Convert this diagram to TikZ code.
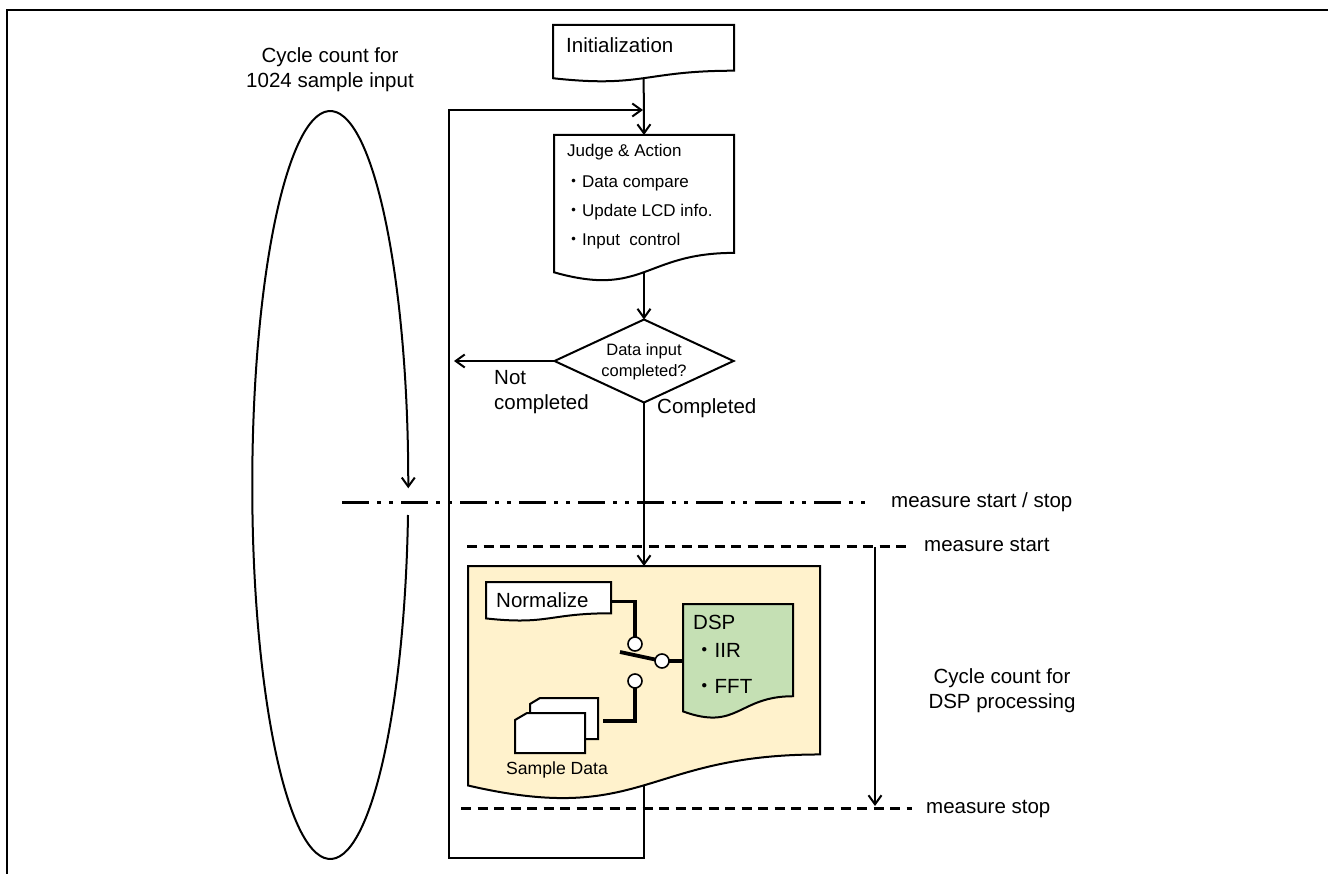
\documentclass[tikz,border=0pt]{standalone}
\usepackage{fontspec}
\setmainfont{Liberation Sans}
\newfontfamily\cjk{Noto Sans CJK JP}
\usetikzlibrary{arrows.meta,shapes.geometric,calc}
\definecolor{docyellow}{HTML}{FFF2CC}
\definecolor{docgreen}{HTML}{C5E0B4}
\newcommand\docpath[3]{% name, fill, line width
  \path[draw, fill=#2, line width=#3] let \p1=(#1.north west), \p2=(#1.south east) in
    (\x1,\y1) -- (\x2,\y1) -- (\x2,{\y1+0.802*(\y2-\y1)})
    .. controls ({(\x1+\x2)/2},{\y1+0.802*(\y2-\y1)}) and ({(\x1+\x2)/2},{\y1+1.108*(\y2-\y1)}) ..
    (\x1,{\y1+0.934*(\y2-\y1)}) -- cycle;}
\begin{document}
\begin{tikzpicture}[x=1pt,y=-1pt,
  box/.style={rectangle, inner sep=0pt, outer sep=0pt, anchor=north west},
  conn/.style={line width=2pt},
  arr/.style={line width=2pt, -{Straight Barb[length=9pt,width=13pt]}},
  big/.style={inner sep=0pt, font=\fontsize{20.5}{25}\selectfont},
  small/.style={inner sep=0pt, font=\fontsize{17}{21}\selectfont},
  sw/.style={line width=3.8pt},
  pin/.style={circle, draw, fill=white, line width=1.6pt, minimum size=14pt, inner sep=0pt, outer sep=0pt},
  dashline/.style={line width=3pt, dash pattern=on 10pt off 6.5pt},
  dashdotline/.style={line width=3pt, dash pattern=on 27pt off 8pt on 4pt off 8pt on 4pt off 8pt},
]
\useasboundingbox (0,0) rectangle (1328,874);
% frame
\draw[line width=2.5pt] (7,874) -- (7,10) -- (1328,10);

% placeholder nodes for shapes
\node[box, minimum width=181pt, minimum height=57pt] (init) at (553,25) {};
\node[box, minimum width=180pt, minimum height=147pt] (judge) at (554,135) {};
\node[box, minimum width=352pt, minimum height=235pt] (ybox) at (468,566) {};
\node[box, minimum width=125pt, minimum height=39pt] (norm) at (486,582) {};
\node[box, minimum width=110pt, minimum height=115pt] (dsp) at (683,604) {};

% coordinates
\coordinate (loopbl) at (449,858);
\coordinate (looptl) at (449,110);
\coordinate (loopjoin) at (643,110);
\coordinate (nc) at (454,361);
\coordinate (dd1) at (342,502);
\coordinate (dd2) at (870,502);
\coordinate (ms1) at (467,546);
\coordinate (ms2) at (912,546);
\coordinate (me1) at (461,808);
\coordinate (me2) at (912,808);
\coordinate (cs) at (875,547);
\coordinate (ce) at (875,806);
\coordinate (lever) at (620,652);
\coordinate (cardlink) at (603,721);

% ellipse cycle
\draw[arr] (408,515) arc[start angle=4.6, end angle=360.5, x radius=78, y radius=374];
\node[big, align=center] (cyc1) at (330,70) {Cycle count for\\1024 sample input};

% measure lines
\draw[dashdotline] (dd1) -- (dd2);
\node[big, anchor=west] (mss) at (891,502) {measure start / stop};
\draw[dashline] (ms1) -- (ms2);
\node[big, anchor=west] (mst) at (924,545) {measure start};
\draw[dashline] (me1) -- (me2);
\node[big, anchor=west] (msp) at (926,809) {measure stop};
\draw[arr] (cs) -- (ce);
\node[big, align=center] (cyc2) at (1002,691) {Cycle count for\\DSP processing};

% diamond
\node[diamond, draw=none, minimum width=179pt, minimum height=83pt, inner sep=0pt, outer sep=0pt, aspect=2.16] (dec) at (644,361) {};

% connectors
\draw[arr] (ybox.center) |- (loopbl) -- (looptl) -- (loopjoin);
\draw[arr] (init.center) -- (judge.north);
\draw[arr] (judge.center) -- (dec.north);
\draw[arr] (dec.west) -- (nc);
\draw[arr] (dec.south) -- (ybox.north);

% shapes
\docpath{init}{white}{2pt}
\docpath{judge}{white}{2pt}
\node[diamond, draw, fill=white, line width=2pt, minimum width=179pt, minimum height=83pt, inner sep=0pt, outer sep=0pt, aspect=2.16] (decshape) at (dec) {};
\docpath{ybox}{docyellow}{2pt}

% texts of flow
\node[big, anchor=west] (tinit) at (566,45) {Initialization};
\node[small, anchor=west] (tj0) at (567,152) {Judge \& Action};
\node[small, anchor=west] (tj1) at (565,183) {{\cjk ・}Data compare};
\node[small, anchor=west] (tj2) at (565,212) {{\cjk ・}Update LCD info.};
\node[small, anchor=west] (tj3) at (565,241) {{\cjk ・}Input\ \ control};
\node[inner sep=0pt, align=center, font=\fontsize{16.5}{21}\selectfont] (tdec) at (644,362) {Data input\\completed?};
\node[big, align=left, anchor=west] (tnc) at (494,392) {Not\\completed};
\node[big, anchor=west] (tc) at (657,408) {Completed};

% inside DSP block: switch
\draw[sw] (norm.east) -| (635,644);
\draw[sw] (635,681) |- (cardlink);
\draw[sw] (lever) -- (662,661) -- (dsp.west |- 662,661);
\docpath{norm}{white}{2pt}
\docpath{dsp}{docgreen}{2pt}
\node[pin] (sw1) at (635,644) {};
\node[pin] (sw2) at (635,681) {};
\node[pin] (sw3) at (662,661) {};
% sample data cards
\draw[line width=2pt, fill=white] (540,698) -- (598,698) -- (598,739) -- (530,739) -- (530,704) -- cycle;
\draw[line width=2pt, fill=white] (527,713) -- (585,713) -- (585,753) -- (515,753) -- (515,720) -- cycle;
\node[inner sep=0pt, font=\fontsize{17.6}{21}\selectfont] (tsd) at (557,770) {Sample Data};
\node[big, anchor=west] (tnorm) at (496,600) {Normalize};
\node[big, anchor=west] (tdsp) at (693,622) {DSP};
\node[big, anchor=west] (tiir) at (694,650) {{\cjk ・}IIR};
\node[big, anchor=west] (tfft) at (694,686) {{\cjk ・}FFT};
\end{tikzpicture}
\end{document}
